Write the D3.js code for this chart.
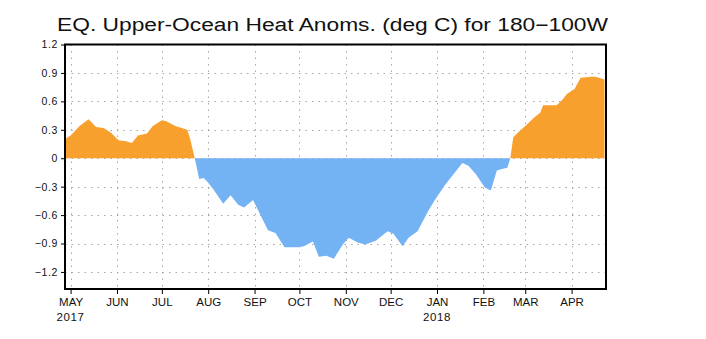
<!DOCTYPE html>
<html>
<head>
<meta charset="utf-8">
<script src="https://cdn.jsdelivr.net/npm/d3@7"></script>
<style>
  html, body { margin: 0; padding: 0; background: #fff; }
  svg { display: block; }
  text { font-family: "Liberation Sans", Arial, sans-serif; fill: #111; }
</style>
</head>
<body>
<svg id="chart" width="706" height="339"></svg>
<script>
// ---- data ----
const titleText = "EQ. Upper-Ocean Heat Anoms. (deg C) for 180\u2212100W";

const dates = [
  "2017-04-27","2017-05-01","2017-05-07","2017-05-13","2017-05-18","2017-05-23","2017-05-28",
  "2017-06-02","2017-06-07","2017-06-11","2017-06-15","2017-06-21","2017-06-25",
  "2017-07-01","2017-07-04","2017-07-10","2017-07-18","2017-07-20","2017-07-23","2017-07-26","2017-07-29",
  "2017-08-01","2017-08-05","2017-08-11","2017-08-16","2017-08-21","2017-08-25","2017-08-31",
  "2017-09-04","2017-09-10","2017-09-15","2017-09-21","2017-09-30",
  "2017-10-04","2017-10-10","2017-10-14","2017-10-19","2017-10-24","2017-10-30",
  "2017-11-03","2017-11-09","2017-11-14","2017-11-21","2017-11-29",
  "2017-12-03","2017-12-09","2017-12-13","2017-12-19","2017-12-26","2017-12-31",
  "2018-01-06","2018-01-12","2018-01-18","2018-01-22","2018-01-27",
  "2018-02-02","2018-02-06","2018-02-10","2018-02-14","2018-02-17","2018-02-19","2018-02-21","2018-02-24",
  "2018-03-01","2018-03-07","2018-03-11","2018-03-13","2018-03-22","2018-03-26","2018-03-29",
  "2018-04-03","2018-04-07","2018-04-14","2018-04-17","2018-04-23"
];
const anomalies = [
  0.20, 0.24, 0.34, 0.41, 0.33, 0.32, 0.27,
  0.19, 0.18, 0.16, 0.24, 0.26, 0.34,
  0.40, 0.39, 0.34, 0.30, 0.20, 0.00, -0.22, -0.21,
  -0.26, -0.34, -0.48, -0.39, -0.49, -0.52, -0.44,
  -0.57, -0.76, -0.79, -0.94, -0.94,
  -0.93, -0.88, -1.04, -1.03, -1.06, -0.91,
  -0.84, -0.89, -0.91, -0.87, -0.77,
  -0.80, -0.93, -0.84, -0.77, -0.56, -0.43,
  -0.29, -0.17, -0.05, -0.08, -0.17,
  -0.31, -0.34, -0.13, -0.11, -0.10, 0.00, 0.22, 0.27,
  0.34, 0.43, 0.48, 0.56, 0.56, 0.62, 0.68,
  0.73, 0.85, 0.86, 0.86, 0.83
];

const yTickValues = [-1.2, -0.9, -0.6, -0.3, 0, 0.3, 0.6, 0.9, 1.2];
const yTickLabels = ["\u22121.2","\u22120.9","\u22120.6","\u22120.3","0","0.3","0.6","0.9","1.2"];
const monthTicks = ["2017-05-01","2017-06-01","2017-07-01","2017-08-01","2017-09-01","2017-10-01",
                    "2017-11-01","2017-12-01","2018-01-01","2018-02-01","2018-03-01","2018-04-01"];
const monthLabels = ["MAY","JUN","JUL","AUG","SEP","OCT","NOV","DEC","JAN","FEB","MAR","APR"];
const yearLabels  = ["2017","","","","","","","","2018","","",""];

const xDomain = ["2017-04-27T06:00", "2018-04-24T00:00"];
const yDomain = [-1.38, 1.2];

// ---- drawing ----
(function () {
const parse = d3.utcParse("%Y-%m-%d");
const parseT = d3.utcParse("%Y-%m-%dT%H:%M");
const data = dates.map((d, i) => ({ date: parse(d), v: anomalies[i] }));
const ticks = monthTicks.map(parse);

const pl = 65, pr = 606, pt = 44.5, pb = 289;
const x = d3.scaleUtc().domain(xDomain.map(parseT)).range([pl, pr]);
const y = d3.scaleLinear().domain(yDomain).range([pb, pt]);

const svg = d3.select("#chart");

// title
svg.append("text")
  .attr("x", 57).attr("y", 31)
  .attr("textLength", 551).attr("lengthAdjust", "spacingAndGlyphs")
  .style("font-size", "18px")
  .text(titleText);

// grid
const grid = svg.append("g").attr("stroke", "#a8a8a8").attr("stroke-width", 1)
  .attr("stroke-dasharray", "1.5,5");
grid.selectAll("line.h").data(yTickValues.filter(v => v !== 1.2)).enter().append("line")
  .attr("x1", pl).attr("x2", pr)
  .attr("y1", d => Math.round(y(d)) + 0.5).attr("y2", d => Math.round(y(d)) + 0.5);
grid.selectAll("line.v").data(ticks).enter().append("line")
  .attr("x1", d => Math.round(x(d)) + 0.5).attr("x2", d => Math.round(x(d)) + 0.5)
  .attr("y1", pt).attr("y2", pb);

// fills
const areaPos = d3.area().x(d => x(d.date)).y0(y(0)).y1(d => y(Math.max(0, d.v)));
const areaNeg = d3.area().x(d => x(d.date)).y0(y(0)).y1(d => y(Math.min(0, d.v)));
svg.append("path").datum(data).attr("d", areaNeg).attr("fill", "#74b3f3");
svg.append("path").datum(data).attr("d", areaPos).attr("fill", "#f8a02e");

// frame
svg.append("rect").attr("x", pl).attr("y", pt).attr("width", pr - pl).attr("height", pb - pt)
  .attr("fill", "none").attr("stroke", "#000").attr("stroke-width", 2);

// y axis
const yAxis = d3.axisLeft(y).tickValues(yTickValues).tickSize(4).tickPadding(3)
  .tickFormat((d, i) => yTickLabels[i]);
const gy = svg.append("g").attr("transform", `translate(${pl},0)`).call(yAxis);
gy.select(".domain").remove();
gy.selectAll("text").style("font-size", "10.5px").style("letter-spacing", "0.6px")
  .style("font-family", "'Liberation Sans', Arial, sans-serif").attr("fill", "#111");

// x axis
const xAxis = d3.axisBottom(x).tickValues(ticks).tickSize(5).tickPadding(4)
  .tickFormat((d, i) => monthLabels[i]);
const gx = svg.append("g").attr("transform", `translate(0,${pb})`).call(xAxis);
gx.select(".domain").remove();
gx.selectAll("text").style("font-size", "11.5px")
  .style("font-family", "'Liberation Sans Narrow', 'Liberation Sans', Arial, sans-serif").attr("fill", "#111");

// year labels
svg.append("g").selectAll("text").data(ticks.map((d, i) => ({ d, t: yearLabels[i] })).filter(o => o.t))
  .enter().append("text")
  .attr("x", o => x(o.d)).attr("y", 321)
  .attr("text-anchor", "middle")
  .style("font-size", "11.5px").style("letter-spacing", "0.6px")
  .text(o => o.t);
})();
</script>
</body>
</html>
